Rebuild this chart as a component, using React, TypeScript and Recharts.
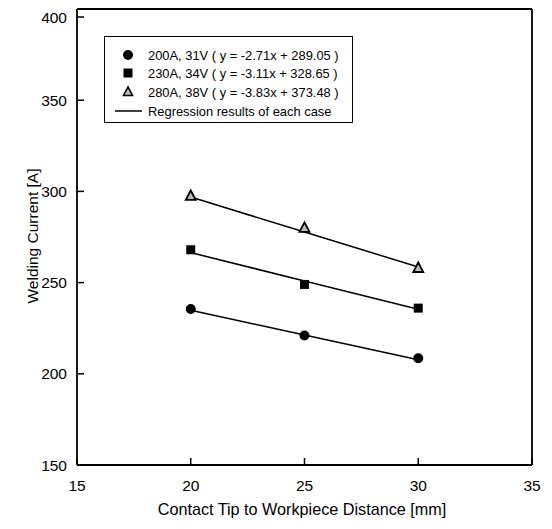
import React from 'react';
import { ComposedChart, Line, Scatter, XAxis, YAxis, ReferenceLine, Label } from 'recharts';

const distance = [20, 25, 30];
const current200A = [235.5, 221.0, 208.5];
const current230A = [268.0, 249.0, 236.0];
const current280A = [297.5, 280.0, 258.0];
const fit200A = [234.85, 221.3, 207.75];
const fit230A = [266.45, 250.9, 235.35];
const fit280A = [296.88, 277.73, 258.58];
const xTicks = [15, 20, 25, 30, 35];
const yTicks = [150, 200, 250, 300, 350, 400];
const legendLabels = [
  '200A, 31V ( y = -2.71x + 289.05 )',
  '230A, 34V ( y = -3.11x + 328.65 )',
  '280A, 38V ( y = -3.83x + 373.48 )',
  'Regression results of each case',
];

const data = distance.map((d, i) => ({
  x: d,
  p200: current200A[i],
  p230: current230A[i],
  p280: current280A[i],
  f200: fit200A[i],
  f230: fit230A[i],
  f280: fit280A[i],
}));

const FONT = '"Liberation Sans", Arial, Helvetica, sans-serif';

const CircleShape = (p: any) => <circle cx={p.cx} cy={p.cy} r={5} fill="#000" />;
const SquareShape = (p: any) => <rect x={p.cx - 4.5} y={p.cy - 4.5} width={9} height={9} fill="#000" />;
const TriShape = (p: any) => (
  <polygon
    points={`${p.cx},${p.cy - 5.5} ${p.cx - 5},${p.cy + 4} ${p.cx + 5},${p.cy + 4}`}
    fill="#bbb"
    stroke="#000"
    strokeWidth={1.8}
  />
);

const XTick = (p: any) => (
  <g>
    <line x1={p.x} x2={p.x} y1={p.y} y2={p.y - 7} stroke="#000" strokeWidth={1.5} />
    <text x={p.x} y={p.y + 20} textAnchor="middle" dominantBaseline="central" fontSize={15.5} fill="#000" fontFamily={FONT}>
      {p.payload.value}
    </text>
  </g>
);

const YTick = (p: any) => (
  <g>
    <line x1={p.x} x2={p.x + 7} y1={p.y} y2={p.y} stroke="#000" strokeWidth={1.5} />
    <text x={p.x - 10} y={p.y} textAnchor="end" dominantBaseline="central" fontSize={15.5} fill="#000" fontFamily={FONT}>
      {p.payload.value}
    </text>
  </g>
);

const LegendBox = () => {
  const rowY = [18, 36, 55, 74];
  return (
    <div
      style={{
        position: 'absolute',
        left: 96,
        top: 28,
        width: 247,
        height: 85,
        border: '1.5px solid #000',
        background: '#fff',
        fontFamily: FONT,
      }}
    >
      <svg width={247} height={85} style={{ position: 'absolute', left: 0, top: 0 }}>
        <circle cx={23} cy={rowY[0]} r={5} fill="#000" />
        <rect x={18.5} y={rowY[1] - 4.5} width={9} height={9} fill="#000" />
        <polygon
          points={`23,${rowY[2] - 5} 18.5,${rowY[2] + 3.5} 27.5,${rowY[2] + 3.5}`}
          fill="#bbb"
          stroke="#000"
          strokeWidth={1.6}
        />
        <line x1={10} x2={37} y1={rowY[3]} y2={rowY[3]} stroke="#000" strokeWidth={1.5} />
        {legendLabels.map((t, i) => (
          <text key={i} x={43} y={rowY[i]} dy="0.35em" fontSize={12.9} fill="#000" fontFamily={FONT}>
            {t}
          </text>
        ))}
      </svg>
    </div>
  );
};

export default function App() {
  return (
    <div style={{ position: 'relative', width: 536, height: 513, fontFamily: FONT }}>
      <ComposedChart
        width={536}
        height={513}
        data={data}
        margin={{ top: 1, right: 12, bottom: 6, left: 0 }}
      >
        <XAxis
          dataKey="x"
          type="number"
          domain={[15, 35]}
          ticks={xTicks}
          tickLine={false}
          tickSize={0}
          tickMargin={0}
          tick={XTick}
          stroke="#000"
          strokeWidth={1.8}
          height={50}
        >
          <Label
            content={() => (
              <text x={294} y={501} textAnchor="middle" dominantBaseline="central" fontSize={16.2} fill="#000" fontFamily={FONT}>
                Contact Tip to Workpiece Distance [mm]
              </text>
            )}
          />
        </XAxis>
        <YAxis
          type="number"
          domain={[150, 400]}
          ticks={yTicks}
          tickLine={false}
          tickSize={0}
          tickMargin={0}
          tick={YTick}
          stroke="#000"
          strokeWidth={1.8}
          width={69}
        >
          <Label
            content={() => (
              <text
                x={24}
                y={228}
                textAnchor="middle"
                dominantBaseline="central"
                transform="rotate(-90 24 228)"
                fontSize={15.5}
                fill="#000"
                fontFamily={FONT}
              >
                Welding Current [A]
              </text>
            )}
          />
        </YAxis>
        <ReferenceLine x={35} stroke="#000" strokeWidth={1.8} />
        <ReferenceLine y={400} stroke="#000" strokeWidth={1.8} />
        <Line dataKey="f200" type="linear" stroke="#000" strokeWidth={1.5} dot={false} isAnimationActive={false} />
        <Line dataKey="f230" type="linear" stroke="#000" strokeWidth={1.5} dot={false} isAnimationActive={false} />
        <Line dataKey="f280" type="linear" stroke="#000" strokeWidth={1.5} dot={false} isAnimationActive={false} />
        <Scatter dataKey="p200" shape={CircleShape} isAnimationActive={false} />
        <Scatter dataKey="p230" shape={SquareShape} isAnimationActive={false} />
        <Scatter dataKey="p280" shape={TriShape} isAnimationActive={false} />
      </ComposedChart>
      <LegendBox />
    </div>
  );
}
